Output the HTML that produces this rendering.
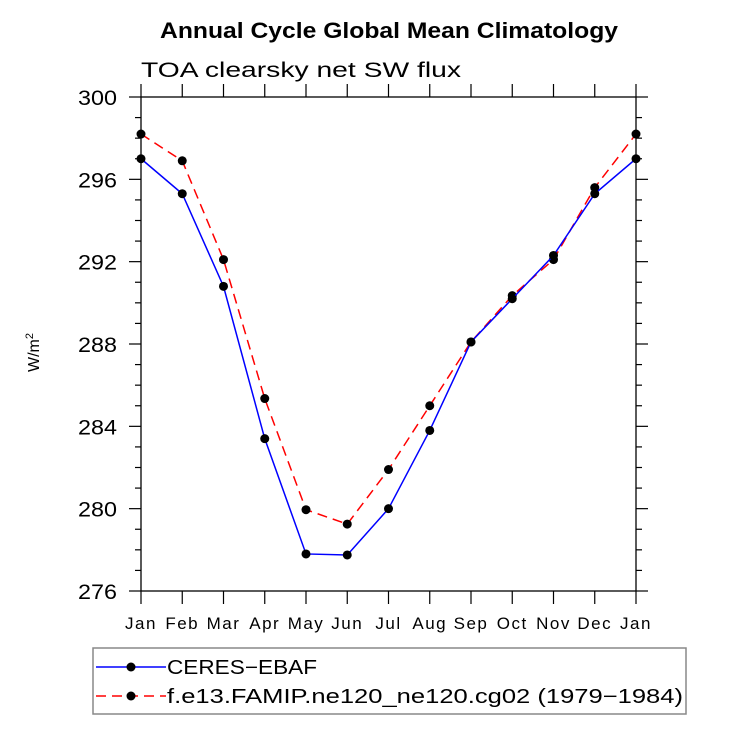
<!DOCTYPE html>
<html><head><meta charset="utf-8"><style>
html,body{margin:0;padding:0;background:#fff;}
svg{display:block;font-family:"Liberation Sans",sans-serif;}
</style></head><body>
<svg id="chart" width="733" height="734" viewBox="0 0 733 734" xmlns="http://www.w3.org/2000/svg">
<text x="160" y="38" font-size="22" font-weight="bold" textLength="458" lengthAdjust="spacingAndGlyphs">Annual Cycle Global Mean Climatology</text>
<text x="141" y="77" font-size="21" textLength="320" lengthAdjust="spacingAndGlyphs">TOA clearsky net SW flux</text>
<text transform="translate(39,372) rotate(-90)" font-size="16">W/m<tspan dy="-6" font-size="11">2</tspan></text>
<g id="axes"></g>
<g id="series"></g>
<g>
<rect x="93" y="648" width="593" height="66" fill="none" stroke="#888" stroke-width="1.5"/>
<line x1="96" y1="667" x2="166" y2="667" stroke="#0000ff" stroke-width="1.5"/>
<circle cx="131" cy="667" r="4.5" fill="#000"/>
<text x="167" y="674" font-size="20" textLength="150" lengthAdjust="spacingAndGlyphs">CERES−EBAF</text>
<line x1="96" y1="696" x2="166" y2="696" stroke="#ff0000" stroke-width="1.5" stroke-dasharray="10,6"/>
<circle cx="131" cy="696" r="4.5" fill="#000"/>
<text x="167" y="703" font-size="20" textLength="516" lengthAdjust="spacingAndGlyphs">f.e13.FAMIP.ne120_ne120.cg02 (1979−1984)</text>
</g>
</svg>
<script>
const months = ["Jan","Feb","Mar","Apr","May","Jun","Jul","Aug","Sep","Oct","Nov","Dec","Jan"];
const ceres = [297.0,295.3,290.8,283.4,277.8,277.75,280.0,283.8,288.1,290.2,292.3,295.3,297.0];
const model = [298.2,296.9,292.1,285.35,279.95,279.25,281.9,285.0,288.1,290.35,292.1,295.6,298.2];
const yTicks = [276,280,284,288,292,296,300];
const yMin = 276, yMax = 300;
const L=141,R=636,T=97,B=591;
const NS="http://www.w3.org/2000/svg";
const xs=i=>L+(R-L)*i/(months.length-1);
const ys=v=>B-(B-T)*(v-yMin)/(yMax-yMin);
function mk(tag,attrs,parent){const e=document.createElementNS(NS,tag);for(const k in attrs)e.setAttribute(k,attrs[k]);parent.appendChild(e);return e;}
const ax=document.getElementById('axes');
const frame=mk('rect',{x:L,y:T,width:R-L,height:B-T,fill:'none',stroke:'#000','stroke-width':1.3},ax);


for(let v=yMin;v<=yMax;v++){
  const maj=yTicks.includes(v);const len=maj?12:6;const y=ys(v);
  const t1=mk('line',{x1:L-len,y1:y,x2:L,y2:y,stroke:'#000','stroke-width':1.2},ax);
  
  
  const t2=mk('line',{x1:R,y1:y,x2:R+len,y2:y,stroke:'#000','stroke-width':1.2},ax);
  
  
}
yTicks.forEach(v=>{
  const t=mk('text',{x:78,y:ys(v)+8,'font-size':21,textLength:39,lengthAdjust:'spacingAndGlyphs'},ax);
  t.textContent=v;
  
  
});
months.forEach((m,i)=>{
  const x=xs(i);
  const a=mk('line',{x1:x,y1:T-13,x2:x,y2:T,stroke:'#000','stroke-width':1.2},ax);
  
  
  const b=mk('line',{x1:x,y1:B,x2:x,y2:B+13,stroke:'#000','stroke-width':1.2},ax);
  
  
  const t=mk('text',{x:x,y:629,'text-anchor':'middle','font-size':17,'letter-spacing':1.5},ax);
  t.textContent=m;
  
  
});
const sg=document.getElementById('series');
function drawSeries(vals,color,dash,name){
  const pts=vals.map((v,i)=>xs(i)+','+ys(v)).join(' ');
  const pl=mk('polyline',{points:pts,fill:'none',stroke:color,'stroke-width':1.5},sg);
  if(dash)pl.setAttribute('stroke-dasharray',dash);
  
  
  vals.forEach((v,i)=>{
    const c=mk('circle',{cx:xs(i),cy:ys(v),r:4.5,fill:'#000'},sg);
    
    
  });
}
drawSeries(model,'#ff0000','10,6','model');
drawSeries(ceres,'#0000ff',null,'ceres');
</script>
</body></html>
